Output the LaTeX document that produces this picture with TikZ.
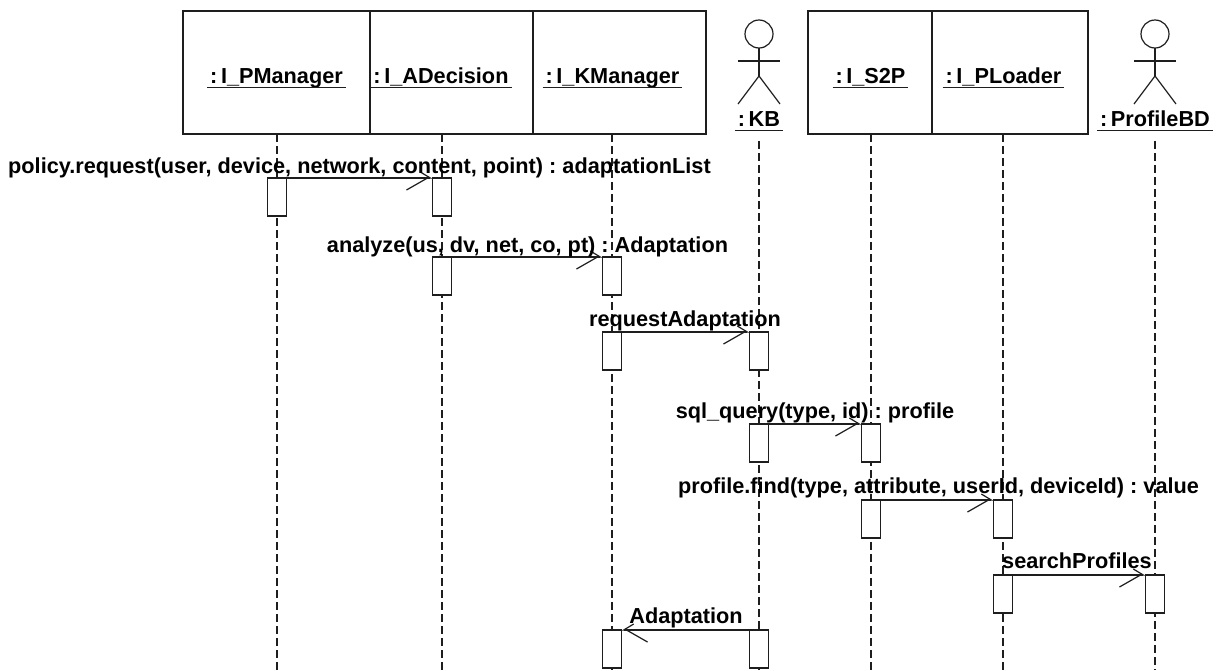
\documentclass[tikz,border=0pt]{standalone}
\usepackage{fontspec}
\setmainfont{Liberation Sans}
\usetikzlibrary{arrows.meta,positioning}
\definecolor{lineCol}{RGB}{30, 30, 30}
\frenchspacing

\begin{document}
\begin{tikzpicture}[
    x=1pt,
    y=-1pt,
    font=\fontsize{21.7}{24}\selectfont\bfseries,
    headBox/.style={draw=lineCol, line width=1.4pt, minimum height=123pt, inner sep=0pt, outer sep=0pt},
    nameText/.style={anchor=base, inner sep=0pt, outer sep=0pt, text=black},
    nameLine/.style={line width=1.4pt, draw=lineCol},
    lifeLine/.style={line width=1.2pt, draw=lineCol, dash pattern=on 8pt off 4pt},
    actBar/.style={draw=lineCol, fill=white, line width=1.3pt, anchor=north, minimum width=19pt, minimum height=38pt, inner sep=0pt, outer sep=0pt},
    msgArrow/.style={line width=1.2pt, draw=lineCol, -{Straight Barb[right, length=21pt, width=24pt, line width=1.2pt, sep=-10pt] Straight Barb[left, length=10pt, width=12pt, line width=1.2pt]}},
    msgBack/.style={line width=1.2pt, draw=lineCol, -{Straight Barb[left, length=21pt, width=24pt, line width=1.2pt, sep=-10pt] Straight Barb[right, length=10pt, width=12pt, line width=1.2pt]}},
    msgText/.style={anchor=base, inner sep=0pt, text=black}
]
    \useasboundingbox (0,0) rectangle (1220,670);

    % ---------------- head boxes ----------------
    \foreach \n/\xa/\wid in {pManager/276.5/187, aDecision/451.5/163, kManager/619.5/173, sTwoP/870/124, pLoader/1010/156} {
        \node[headBox, minimum width=\wid pt] (\n) at (\xa, 72.5) {};
    }

    % ---------------- actors ----------------
    \foreach \n/\xa in {kb/759, profileBd/1155} {
        \node[circle, draw=lineCol, line width=1.2pt, minimum size=28pt, inner sep=0pt, outer sep=0pt] (\n Head) at (\xa, 34) {};
        \coordinate (\n Hip) at (\xa, 76);
        \coordinate (\n Left) at (\xa-21, 104);
        \coordinate (\n Right) at (\xa+21, 104);
        \coordinate (\n ArmL) at (\xa-21, 61);
        \coordinate (\n ArmR) at (\xa+21, 61);
        \draw[nameLine, line width=1.2pt] (\n Head.south) -- (\n Hip);
        \draw[nameLine, line width=1.2pt] (\n ArmL) -- (\n ArmR);
        \draw[nameLine, line width=1.2pt] (\n Left) -- (\n Hip) -- (\n Right);
    }

    % ---------------- object names ----------------
    \foreach \n/\xa/\ya/\lab in {pManagerLab/276.5/83/{:\,I\_PManager}, aDecisionLab/441/83/{:\,I\_ADecision}, kManagerLab/612.5/83/{:\,I\_KManager}, sTwoPLab/870.5/83/{:\,I\_S2P}, pLoaderLab/1003.5/83/{:\,I\_PLoader}, kbLab/759/126/{:\,KB}, profileBdLab/1155/126/{:\,ProfileBD}} {
        \node[nameText] (\n) at (\xa, \ya) {\lab};
        \draw[nameLine] ([shift={(-3pt,-4.5pt)}]\n.base west) -- ([shift={(3pt,-4.5pt)}]\n.base east);
    }

    % ---------------- life lines ----------------
    \coordinate (kbTop) at (759, 141);
    \coordinate (profileBdTop) at (1155, 141);
    \foreach \a/\xa in {pManager.south/277, aDecision.south/442, kManager.south/612, kbTop/759, sTwoP.south/871, pLoader.south/1003, profileBdTop/1155} {
        \coordinate (end) at (\xa, 670);
        \draw[lifeLine] (\a -| end) -- (end);
    }

    % ---------------- activation bars ----------------
    \foreach \n/\xa/\ya in {pmBar/277/178, adBarA/442/178, adBarB/442/257, kmBarA/612/257, kmBarB/612/332,
                            kmBarC/612/630, kbBarA/759/332, kbBarB/759/424, kbBarC/759/630, spBarA/871/424,
                            spBarB/871/500, plBarA/1003/500, plBarB/1003/575, pdBar/1155/575} {
        \node[actBar] (\n) at (\xa, \ya) {};
    }

    % ---------------- messages ----------------
    \draw[msgArrow] (pmBar.north east) -- (adBarA.north west);
    \draw[msgArrow] (adBarB.north east) -- (kmBarA.north west);
    \draw[msgArrow] (kmBarB.north east) -- (kbBarA.north west);
    \draw[msgArrow] (kbBarB.north east) -- (spBarA.north west);
    \draw[msgArrow] (spBarB.north east) -- (plBarA.north west);
    \draw[msgArrow] (plBarB.north east) -- (pdBar.north west);
    \draw[msgBack] (kbBarC.north west) -- (kmBarC.north east);

    \node[msgText] (msgPolicy) at (359.5, 173) {policy.request(user, device, network, content, point) : adaptationList};
    \node[msgText] (msgAnalyze) at (527.5, 252) {analyze(us, dv, net, co, pt) : Adaptation};
    \node[msgText] (msgRequest) at (685, 326) {requestAdaptation};
    \node[msgText] (msgSql) at (815, 418) {sql\_query(type, id) : profile};
    \node[msgText] (msgFind) at (938.5, 493) {profile.find(type, attribute, userId, deviceId) : value};
    \node[msgText] (msgSearch) at (1077, 568) {searchProfiles};
    \node[msgText] (msgBackLab) at (686, 623) {Adaptation};

\end{tikzpicture}
\end{document}
